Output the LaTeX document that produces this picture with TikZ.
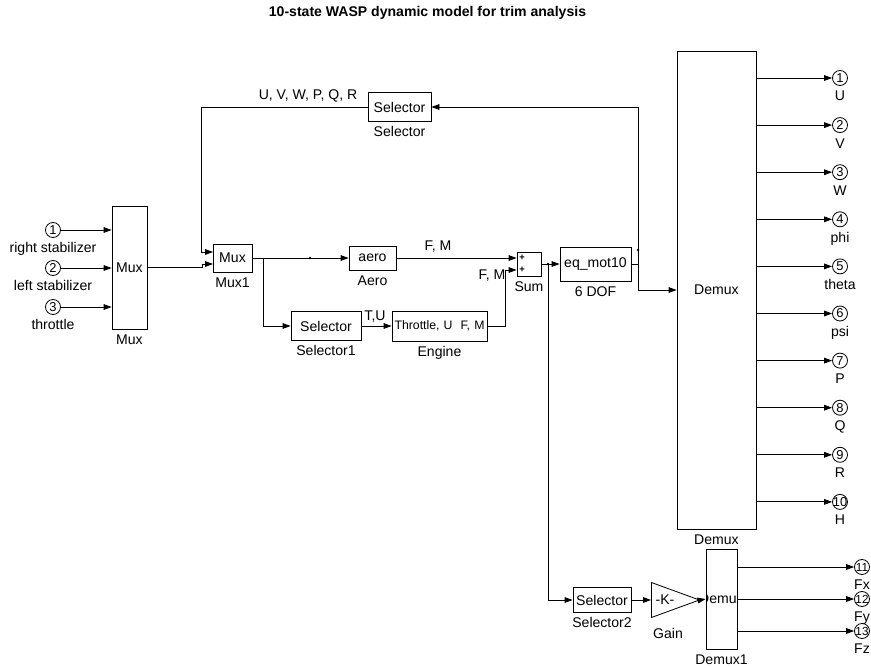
\documentclass[tikz,border=0pt]{standalone}
\usepackage{fontspec}
\setmainfont{Liberation Sans}
\usetikzlibrary{arrows.meta, positioning, shapes.geometric}

\begin{document}
\begin{tikzpicture}[
        x=0.3mm, y=-0.3mm,
        font=\fontsize{12}{14}\selectfont,
        line width=0.7pt,
        bloco/.style={draw, inner sep=0pt, fill=white},
        tam/.style 2 args={minimum width=#1*0.3mm, minimum height=#2*0.3mm},
        port/.style={circle, draw, inner sep=0pt, minimum size=4.5mm, font=\fontsize{11}{11}\selectfont},
        lbl/.style={inner sep=0pt, text height=3mm, text depth=0.8mm},
        seta/.style={-{Triangle[length=2.4mm, width=1.7mm]}}
    ]
    \useasboundingbox (0,0) rectangle (871,668);

    \node[font=\bfseries\fontsize{12}{14}\selectfont] (titulo) at (427.5,13) {10-state WASP dynamic model for trim analysis};

    % Entradas
    \node[port] (in1) at (53,230) {\makebox[0pt]{1}};
    \node[lbl, below=1.4mm of in1] (lin1) {right stabilizer};
    \node[port] (in2) at (53,268) {\makebox[0pt]{2}};
    \node[lbl, below=1.4mm of in2] (lin2) {left stabilizer};
    \node[port] (in3) at (53,307) {\makebox[0pt]{3}};
    \node[lbl, below=1.4mm of in3] (lin3) {throttle};

    % Blocos
    \node[bloco, tam={35}{123}] (mux) at (129.5,267.5) {Mux};
    \node[lbl, below=1.3mm of mux] (lmux) {Mux};
    \node[bloco, tam={39}{28}] (mux1) at (232.5,258) {Mux};
    \node[lbl, below=1.3mm of mux1] (lmux1) {Mux1};
    \node[bloco, tam={47}{24}] (aero) at (372.5,258) {aero};
    \node[lbl, below=1.3mm of aero] (laero) {Aero};
    \node[bloco, tam={24}{24}] (sum) at (529,264) {};
    \node[lbl, below=1.3mm of sum] (lsum) {Sum};
    \node[font=\bfseries\fontsize{8}{8}\selectfont, inner sep=0pt] (p1) at (522,258) {+};
    \node[font=\bfseries\fontsize{8}{8}\selectfont, inner sep=0pt] (p2) at (522,270) {+};
    \node[bloco, tam={71}{34}] (eq) at (595.5,264) {eq\_mot10};
    \node[lbl, below=1.3mm of eq] (leq) {6 DOF};
    \node[bloco, tam={63}{29}] (sel) at (399.5,107) {Selector};
    \node[lbl, below=1.3mm of sel] (lsel) {Selector};
    \node[bloco, tam={70}{29}] (sel1) at (326,326) {Selector};
    \node[lbl, below=1.3mm of sel1] (lsel1) {Selector1};
    \node[bloco, tam={95}{30}, text width=90*0.3mm, font=\fontsize{10.5}{12}\selectfont] (eng) at (439.5,326) {Throttle, U\hfill F, M};
    \node[lbl, below=1.3mm of eng] (leng) {Engine};
    \node[bloco, tam={79}{478}] (demux) at (716.5,290) {Demux};
    \node[lbl, below=1.3mm of demux] (ldemux) {Demux};
    \node[bloco, tam={58}{25}] (sel2) at (602,600) {Selector};
    \node[lbl, below=1.3mm of sel2] (lsel2) {Selector2};
    \node[draw, isosceles triangle, isosceles triangle stretches, inner sep=0pt,
          minimum width=35*0.3mm, minimum height=48*0.3mm, anchor=west] (gain) at (651,600) {};
    \node (ktxt) at (665,600) {-K-};
    \node[lbl] (lgain) at (668,635) {Gain};
    \node[bloco, tam={31}{100},
          path picture={\node (d1txt) at (path picture bounding box.center) {Demux};}] (demux1) at (721.5,599) {};
    \node[lbl, below=1.3mm of demux1] (ldemux1) {Demux1};

    % Saidas
    \foreach \i/\txt in {1/U,2/V,3/W,4/phi,5/theta,6/psi,7/P,8/Q,9/R,10/H} {
        \node[port] (o\i) at (840,{78+47.1*(\i-1)}) {\makebox[0pt]{\i}};
        \node[lbl, below=1.4mm of o\i] (lo\i) {\txt};
        \draw[seta] (o\i -| demux.east) -- (o\i);
    }
    \node[port, font=\fontsize{10}{10}\selectfont] (o11) at (862,567) {\makebox[0pt]{11}};
    \node[lbl, below=1.4mm of o11] (lo11) {Fx};
    \node[port, font=\fontsize{10}{10}\selectfont] (o12) at (862,599) {\makebox[0pt]{12}};
    \node[lbl, below=1.4mm of o12] (lo12) {Fy};
    \node[port, font=\fontsize{10}{10}\selectfont] (o13) at (862,631) {\makebox[0pt]{13}};
    \node[lbl, below=1.4mm of o13] (lo13) {Fz};

    % Sinais
    \node (tsel) at (308,96) {U, V, W, P, Q, R};
    \node (tfm1) at (438,247) {F, M};
    \node (tfm2) at (492,276) {F, M};
    \node (ttu) at (375,317) {T,U};

    % Ligacoes
    \draw[seta] (in1) -- (in1 -| mux.west);
    \draw[seta] (in2) -- (in2 -| mux.west);
    \draw[seta] (in3) -- (in3 -| mux.west);
    \coordinate (m1a) at (213,252);
    \coordinate (m1b) at (213,264);
    \draw[seta] (mux.east) -- ++(55,0) |- (m1b);
    \coordinate (fb) at (201,107);
    \draw[seta] (sel.west) -- (fb) |- (m1a);
    \draw[seta] (mux1.east) -- (aero.west);
    \coordinate (ra) at (263,258);
    \draw[seta] (ra) |- (sel1.west);
    \draw[seta] (aero.east) -- (aero.east -| sum.west);
    \draw[seta] (sel1.east) -- (eng.west);
    \draw[seta] (eng.east) -- ++(18,0) |- (sum.west |- p2);
    \draw[seta] (sum.east) -- (eq.west);
    \coordinate (rs) at (548,264);
    \draw[seta] (rs) |- (sel2.west);
    \coordinate (re) at (638,264);
    \draw (eq.east) -- (re);
    \draw[seta] (re) |- (sel.east);
    \draw[seta] (re) |- (demux.west);
    \draw[seta] (sel2.east) -- (gain.west);
    \draw[seta] (gain.east) -- (demux1.west);
    \draw[seta] (o11 -| demux1.east) -- (o11);
    \draw[seta] (o12 -| demux1.east) -- (o12);
    \draw[seta] (o13 -| demux1.east) -- (o13);
    \fill (310,258) circle (0.4mm);
    \fill (rs) circle (0.4mm);
    \fill (638,250) circle (0.4mm);
\end{tikzpicture}
\end{document}
